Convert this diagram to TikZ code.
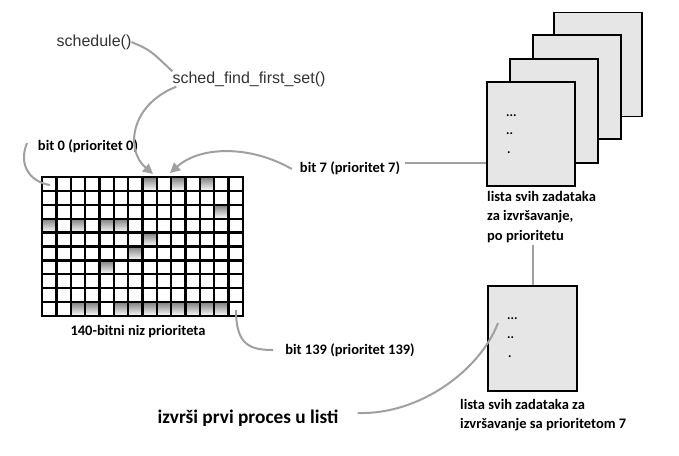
\documentclass[tikz,border=0pt]{standalone}
\usepackage{fontspec}
\setmainfont{Carlito}
\newfontfamily\helv{Liberation Sans}
\usetikzlibrary{arrows.meta}
\definecolor{conn}{HTML}{A0A0A0}
\definecolor{shade}{HTML}{9A9A9A}
\definecolor{pagefill}{HTML}{E6E6E6}
\begin{document}
\begin{tikzpicture}[x=1pt,y=-1pt,
  conline/.style={draw=conn,line width=2pt},
  conarrow/.style={conline,-{Triangle[length=10pt,width=10pt]}},
  lbl/.style={font=\bfseries\fontsize{14.5}{17}\selectfont,inner sep=0pt,text=black},
  code/.style={font=\helv\fontsize{16}{18}\selectfont,inner sep=0pt,text=black!80},
  pagebox/.style={draw=black,line width=1.8pt,fill=pagefill,minimum width=88pt,minimum height=104pt,inner sep=0pt},
  dots/.style={font=\bfseries\fontsize{13}{15}\selectfont,inner sep=0pt,anchor=west}]
\useasboundingbox (0,0) rectangle (679,455);
\fill[white] (0,0) rectangle (679,455);

% texts
\node[code] (sched) at (94,42) {schedule()};
\node[code] (sfs) at (249,79) {sched\_find\_first\_set()};
\node[lbl] (b0) at (88,146) {bit 0 (prioritet 0)};
\node[lbl] (b7) at (350,168) {bit 7 (prioritet 7)};
\node[lbl] (niz) at (138,332) {140-bitni niz prioriteta};
\node[lbl] (b139) at (350,350) {bit 139 (prioritet 139)};
\node[font=\bfseries\fontsize{19.3}{22}\selectfont,inner sep=0pt] (izv) at (248,418) {izvrši prvi proces u listi};
\node[lbl,anchor=north west,align=left,font=\bfseries\fontsize{14.5}{19.5}\selectfont] (l1) at (487,191) {lista svih zadataka\\za izvršavanje,\\po prioritetu};
\node[lbl,anchor=north west,align=left,font=\bfseries\fontsize{14.5}{19}\selectfont] (l2) at (460,399) {lista svih zadataka za\\izvršavanje sa prioritetom 7};

% grid
\node[minimum width=201pt,minimum height=139pt,inner sep=0pt] (grid) at (142.5,246.5) {};
\def\cw{14.357}\def\ch{13.9}
\fill[white] (42,177) rectangle (243,316);
\foreach \c/\r in {7/0,9/0,11/0,12/2,0/3,2/3,4/3,5/3,7/4,6/5,4/6,2/9,3/9,5/9,6/9,7/9,8/9,9/9,10/9,11/9,12/9}
  \fill[shade] ({42+\c*\cw},{177+\r*\ch}) rectangle ++(\cw,\ch);
\foreach \i in {1,...,13} \draw[line width=2.3pt] ({42+\i*\cw},177) -- ({42+\i*\cw},316);
\foreach \j in {1,...,9} \draw[line width=2.3pt] (42,{177+\j*\ch}) -- (243,{177+\j*\ch});
\draw[line width=2.6pt] (42,177) rectangle (243,316);

% pages
\node[pagebox] (p4) at (598,64.5) {};
\node[pagebox] (p3) at (577,87) {};
\node[pagebox] (p2) at (554,111) {};
\node[pagebox] (p1) at (531,134) {};
\node[dots] (d1a) at (506,116) {...};
\node[dots] (d1b) at (506,134) {..};
\node[dots] (d1c) at (507,153) {.};
\node[pagebox,minimum width=89pt,minimum height=105pt] (q) at (532.5,338.5) {};
\node[dots] (d2a) at (507,319) {...};
\node[dots] (d2b) at (507,338) {..};
\node[dots] (d2c) at (508,357) {.};

% connectors
\coordinate (c0) at (27,143);
\coordinate (cgrid0) at (50,185);
\coordinate (ctip1) at (153,174);
\coordinate (ctip7) at (170,173);
\coordinate (c139) at (236,310);
\coordinate (cq) at (498,323);
\draw[conline] (sched.east) .. controls (150,50) .. (sfs.north west);
\draw[conarrow] ([xshift=4pt]sfs.south west) .. controls (130,105) and (125,150) .. (ctip1);
\draw[conarrow] ([xshift=-8pt,yshift=-1pt]b7.west) .. controls (250,145) and (200,146) .. (ctip7);
\draw[conline] (c0) .. controls (18,165) and (30,182) .. (cgrid0);
\draw[conline] (c139) .. controls (236,345) and (250,350) .. ([xshift=-12pt]b139.west);
\draw[conline] ([xshift=5pt,yshift=5pt]b7.east) -- ([yshift=5pt]b7.east -| p1.west);
\draw[conline] ([yshift=-2pt]l1.south -| q.north) -- (q.north);
\draw[conline] ([xshift=19pt,yshift=5pt]izv.east) .. controls (420,415) and (480,370) .. (cq);
\end{tikzpicture}
\end{document}
